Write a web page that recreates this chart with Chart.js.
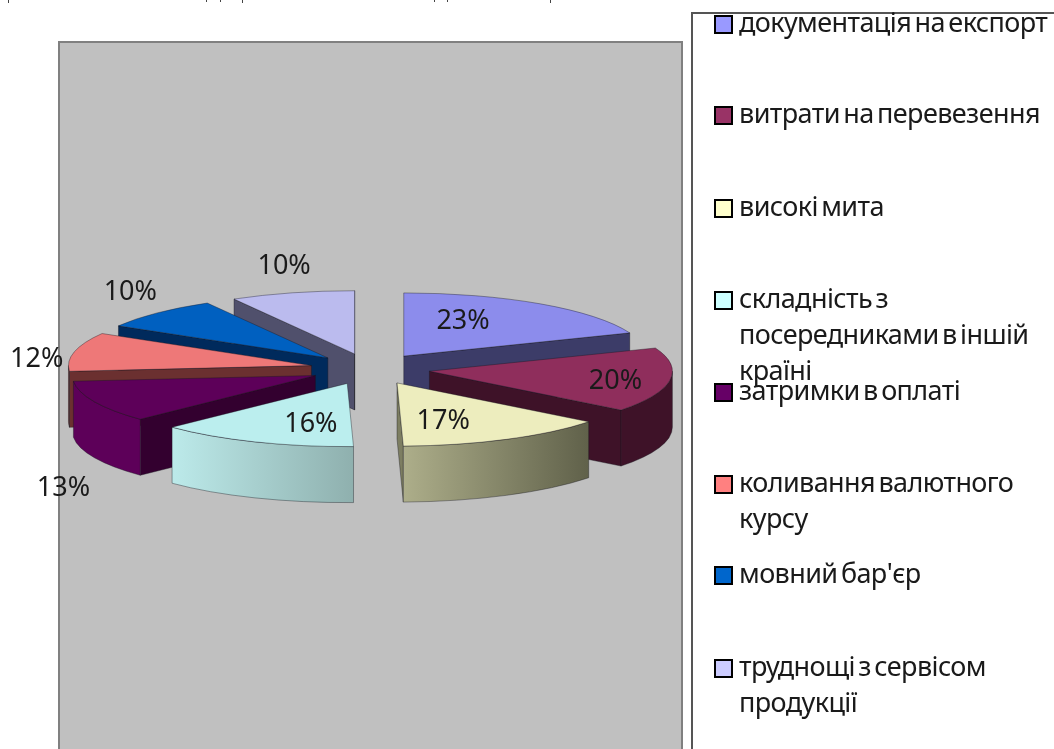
<!DOCTYPE html>
<html lang="uk"><head><meta charset="utf-8">
<style>html,body{margin:0;padding:0;background:#fff;overflow:hidden}canvas{display:block}</style>
<script src="https://cdn.jsdelivr.net/npm/chart.js@4"></script>
</head><body>
<canvas id="c" width="1054" height="749"></canvas>
<script>
const categories = ["документація на експорт","витрати на перевезення","високі мита","складність з посередниками в іншій країні","затримки в оплаті","коливання валютного курсу","мовний бар'єр","труднощі з сервісом продукції"];
const values = [23,20,17,16,13,12,10,10];
const topColors = ["#8c8cec","#8f2e5c","#ededbe","#bbeeee","#5d0059","#ee7878","#0060c0","#bbbbee"];
const legendColors = ["#9999ff","#993366","#ffffcc","#ccffff","#660066","#ff8080","#0066cc","#ccccff"];
const radialColors = ["#3c3c68","#3e1228","#7d7e62","#8fb0ae","#33002f","#6b3030","#002a5c","#50506c"];
const wallLeft = ["#3c3c68","#3e1228","#adae8a","#bceaea","#5d0059","#6b3030","#002a5c","#50506c"];
const wallRight = ["#3c3c68","#3e1228","#60614a","#8fb0ae","#5d0059","#6b3030","#002a5c","#50506c"];
const legendLines = [["документація на експорт"],["витрати на перевезення"],["високі мита"],["складність з","посередниками в іншій","країні"],["затримки в оплаті"],["коливання валютного","курсу"],["мовний бар'єр"],["труднощі з сервісом","продукції"]];

const TILT=0.26, DEPTH=56, EXPLODE=60, RADIUS=243;
const FONT='27px "Noto Sans"';
const labelRadius=[210,250,210,216,547,335,384,409];
const labelNudge=[-7.6,1.5,6.1,-6.7,-31.5,-5.4,6.2,2.9];
const legendSwatchTop=[16,107,200,292,384,476,567,660];
const clippedStrokes=[[8,3],[206,2],[220,2],[242,3],[434,2],[447,2],[550,3]];

function apex(el){
  const m=(el.startAngle+el.endAngle)/2;
  return {x:el.x+EXPLODE*Math.cos(m),y:el.y+TILT*EXPLODE*Math.sin(m)};
}
function rim(p,a){return {x:p.x+RADIUS*Math.cos(a),y:p.y+TILT*RADIUS*Math.sin(a)};}

const pie3d={
  id:'pie3d',
  beforeDraw(chart){
    const ctx=chart.ctx;
    ctx.save();
    ctx.fillStyle='#fff';ctx.fillRect(0,0,1054,749);
    ctx.fillStyle='#444';
    clippedStrokes.forEach(([x,h])=>ctx.fillRect(x,0,1,h));
    ctx.fillStyle='#c0c0c0';ctx.strokeStyle='#808080';ctx.lineWidth=2;
    ctx.fillRect(59,42,623,720);ctx.strokeRect(59,42,623,720);
    ctx.strokeStyle='#555';ctx.lineWidth=2;
    ctx.beginPath();ctx.moveTo(692,760);ctx.lineTo(692,13);ctx.lineTo(1054,13);ctx.stroke();
    ctx.restore();
  },
  beforeDatasetsDraw(chart){
    const ctx=chart.ctx, arcs=chart.getDatasetMeta(0).data;
    const order=arcs.map((el,i)=>i).sort((a,b)=>apex(arcs[a]).y-apex(arcs[b]).y);
    const edge='rgba(20,20,30,.55)';
    order.forEach(i=>{
      const el=arcs[i],p=apex(el),s=el.startAngle,e=el.endAngle;
      ctx.save();
      ctx.lineWidth=.7;ctx.strokeStyle=edge;ctx.lineJoin='round';
      [[s,Math.cos(s)<0],[e,Math.cos(e)>0]].forEach(([a,vis])=>{
        if(!vis)return;
        const q=rim(p,a);
        ctx.beginPath();ctx.moveTo(p.x,p.y);ctx.lineTo(q.x,q.y);ctx.lineTo(q.x,q.y+DEPTH);ctx.lineTo(p.x,p.y+DEPTH);ctx.closePath();
        ctx.fillStyle=radialColors[i];ctx.fill();ctx.stroke();
      });
      const a1=Math.max(s,0),a2=Math.min(e,Math.PI);
      if(a2>a1){
        const q1=rim(p,a1),q2=rim(p,a2);
        const g=ctx.createLinearGradient(Math.min(q1.x,q2.x),0,Math.max(q1.x,q2.x),0);
        g.addColorStop(0,wallLeft[i]);g.addColorStop(1,wallRight[i]);
        ctx.beginPath();
        ctx.ellipse(p.x,p.y,RADIUS,TILT*RADIUS,0,a1,a2);
        ctx.ellipse(p.x,p.y+DEPTH,RADIUS,TILT*RADIUS,0,a2,a1,true);
        ctx.closePath();ctx.fillStyle=g;ctx.fill();ctx.stroke();
      }
      ctx.save();
      ctx.translate(p.x,p.y);ctx.scale(1,TILT);ctx.translate(-el.x,-el.y);
      el.draw(ctx);
      ctx.restore();
      ctx.beginPath();ctx.moveTo(p.x,p.y);
      ctx.ellipse(p.x,p.y,RADIUS,TILT*RADIUS,0,s,e);ctx.closePath();ctx.stroke();
      ctx.restore();
    });
    return false;
  },
  afterDraw(chart){
    const ctx=chart.ctx, arcs=chart.getDatasetMeta(0).data;
    ctx.save();
    ctx.font=FONT;ctx.fillStyle='#1a1a1a';ctx.textAlign='center';ctx.textBaseline='middle';
    arcs.forEach((el,i)=>{
      const a=(el.startAngle+el.endAngle)/2+labelNudge[i]*Math.PI/180;
      ctx.fillText(values[i]+'%',el.x-1+labelRadius[i]*Math.cos(a),el.y+1.5+TILT*labelRadius[i]*Math.sin(a));
    });
    ctx.textAlign='left';ctx.textBaseline='alphabetic';
    ctx.letterSpacing='-0.6px';ctx.wordSpacing='-3px';
    legendLines.forEach((lines,i)=>{
      const t=legendSwatchTop[i];
      ctx.fillStyle=legendColors[i];ctx.fillRect(715,t,17,17);
      ctx.strokeStyle='#000';ctx.lineWidth=2;ctx.strokeRect(715,t,17,17);
      ctx.fillStyle='#1a1a1a';
      lines.forEach((l,j)=>ctx.fillText(l,739,t+16+j*36));
    });
    ctx.restore();
  }
};

new Chart(document.getElementById('c'),{
  type:'pie',
  data:{labels:categories,datasets:[{data:values,backgroundColor:topColors,borderWidth:0}]},
  options:{
    responsive:false,animation:false,radius:RADIUS,
    layout:{padding:{left:0,right:314,top:0,bottom:11}},
    plugins:{legend:{display:false},tooltip:{enabled:false},title:{display:false}}
  },
  plugins:[pie3d]
});
</script>
</body></html>
